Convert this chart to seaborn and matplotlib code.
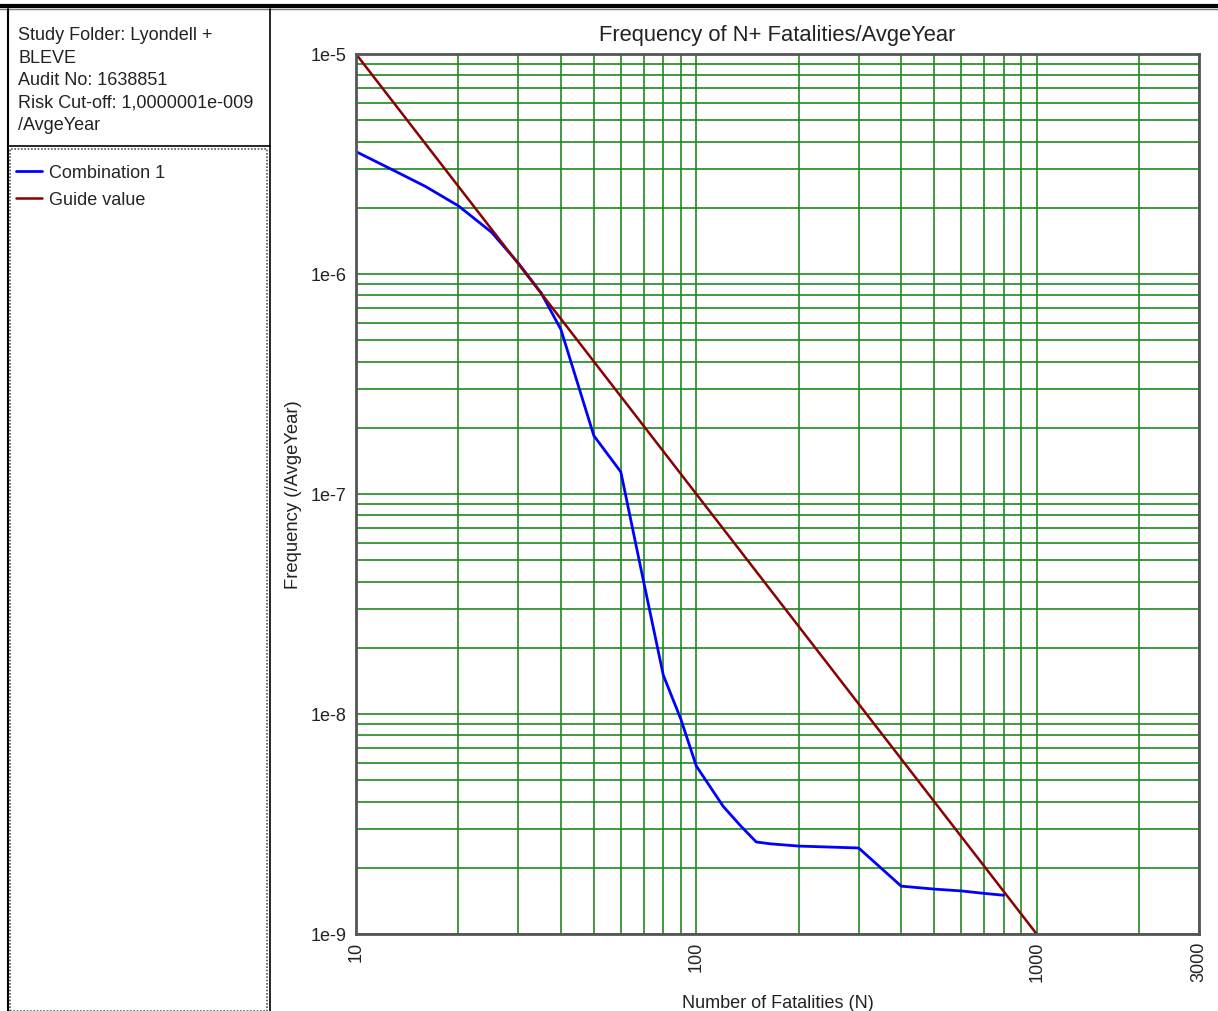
import matplotlib.pyplot as plt
import seaborn as sns
import pandas as pd
from matplotlib.lines import Line2D
from matplotlib.patches import Rectangle
from matplotlib.ticker import FixedLocator, FixedFormatter, NullFormatter

# FN curve
n_combination = [10, 13, 16, 20, 25, 30, 35, 40, 50, 60, 70, 80, 90, 100, 120, 135, 150, 165, 200, 300, 400, 500, 600, 700, 800]
f_combination = [3.6e-6, 2.94e-6, 2.5e-6, 2.04e-6, 1.55e-6, 1.12e-6, 8.2e-7, 5.6e-7, 1.84e-7, 1.26e-7, 4.0e-8, 1.5e-8, 9.5e-9,
                 5.8e-9, 3.8e-9, 3.1e-9, 2.62e-9, 2.57e-9, 2.51e-9, 2.46e-9, 1.65e-9, 1.6e-9, 1.57e-9, 1.53e-9, 1.5e-9]
n_guide = [10, 1000]
f_guide = [1e-5, 1e-9]

x_major = [10, 100, 1000, 3000]
x_major_labels = ['10', '100', '1000', '3000']
x_minor = [20, 30, 40, 50, 60, 70, 80, 90, 200, 300, 400, 500, 600, 700, 800, 900, 2000]
y_major = [1e-9, 1e-8, 1e-7, 1e-6, 1e-5]
y_major_labels = ['1e-9', '1e-8', '1e-7', '1e-6', '1e-5']
y_minor = [m * 10.0 ** e for e in range(-9, -5) for m in range(2, 10)]

info_lines = ['Study Folder: Lyondell +', 'BLEVE', 'Audit No: 1638851',
              'Risk Cut-off: 1,0000001e-009', '/AvgeYear']

sns.set_style('white')
plt.rcParams['font.family'] = ['Liberation Sans', 'DejaVu Sans']

W, H = 1218, 1012
fig = plt.figure(figsize=(W / 100, H / 100), dpi=100)
ax = fig.add_axes([356 / W, 1 - 935 / H, (1199 - 356) / W, (935 - 55) / H])

df_comb = pd.DataFrame({'N': n_combination, 'F': f_combination})
df_guide = pd.DataFrame({'N': n_guide, 'F': f_guide})
sns.lineplot(data=df_comb, x='N', y='F', ax=ax, color='#0000ff', lw=2.0,
             estimator=None, sort=False, label='Combination 1', zorder=4)
sns.lineplot(data=df_guide, x='N', y='F', ax=ax, color='#8b0000', lw=1.8,
             estimator=None, sort=False, label='Guide value', zorder=5)

ax.set_xscale('log')
ax.set_yscale('log')
ax.set_xlim(10, 3000)
ax.set_ylim(1e-9, 1e-5)

ax.xaxis.set_major_locator(FixedLocator(x_major))
ax.xaxis.set_major_formatter(FixedFormatter(x_major_labels))
ax.xaxis.set_minor_locator(FixedLocator(x_minor))
ax.xaxis.set_minor_formatter(NullFormatter())
ax.yaxis.set_major_locator(FixedLocator(y_major))
ax.yaxis.set_major_formatter(FixedFormatter(y_major_labels))
ax.yaxis.set_minor_locator(FixedLocator(y_minor))
ax.yaxis.set_minor_formatter(NullFormatter())

ax.grid(which='both', color='#1f8a1f', lw=1.2)
ax.tick_params(which='both', direction='out', length=5, width=1.2, color='#1f8a1f',
               labelsize=13, labelcolor='#222222', pad=2)
ax.tick_params(axis='x', which='major', labelrotation=90, pad=0)
for s in ax.spines.values():
    s.set_color('#555555')
    s.set_linewidth(2)
    s.set_zorder(6)

ax.set_title('Frequency of N+ Fatalities/AvgeYear', fontsize=15.8, color='#222222', pad=10)
ax.set_xlabel('Number of Fatalities (N)', fontsize=13, color='#222222', labelpad=9)
ax.set_ylabel('Frequency (/AvgeYear)', fontsize=13.3, color='#222222', labelpad=6)

handles, labels = ax.get_legend_handles_labels()
ax.get_legend().remove()

# left side panels
def fx(px):
    return px / W


def fy(py):
    return 1 - py / H


fig.add_artist(Line2D([0, 1], [fy(6.5), fy(6.5)], color='black', lw=3))
fig.add_artist(Line2D([0, 1], [fy(9.5), fy(9.5)], color='#777777', lw=1))
fig.add_artist(Line2D([fx(8), fx(8)], [fy(10), 0], color='black', lw=1.5))
fig.add_artist(Line2D([fx(270), fx(270)], [fy(10), 0], color='black', lw=1.2))
fig.add_artist(Line2D([fx(8), fx(270)], [fy(147), fy(147)], color='black', lw=1.2))
fig.add_artist(Rectangle((fx(10), 0), fx(267) - fx(10), fy(150), fill=False,
                         edgecolor='#555555', lw=1.2, linestyle=(0, (1, 1))))

for i, t in enumerate(info_lines):
    fig.text(fx(18), fy(36 + 22.3 * i), t, fontsize=13, color='#222222', va='center', ha='left')

fig.legend(handles, labels, loc='upper left', bbox_to_anchor=(fx(9), fy(158)),
           frameon=False, fontsize=13, handlelength=1.45, handletextpad=0.35,
           labelspacing=0.55, borderaxespad=0)

fig.savefig('out.png', dpi=100)
